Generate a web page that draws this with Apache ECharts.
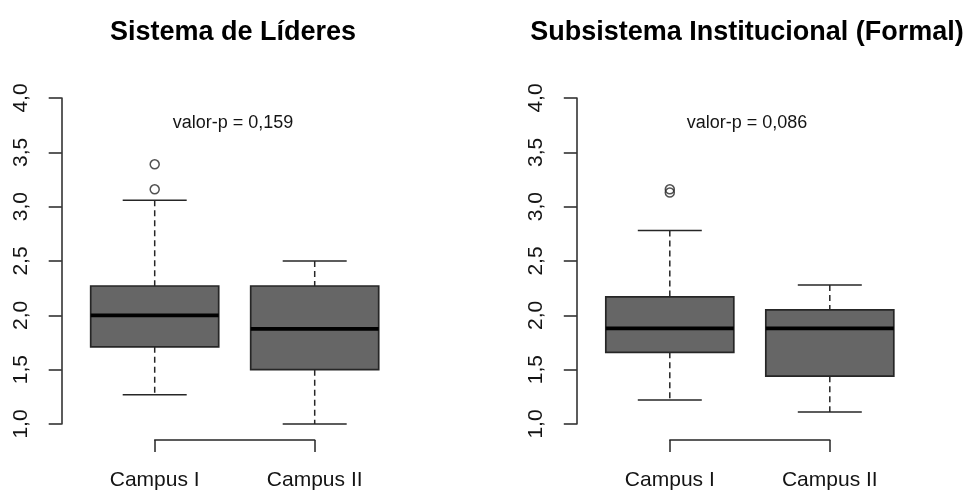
<!DOCTYPE html>
<html>
<head>
<meta charset="utf-8">
<script src="https://cdn.jsdelivr.net/npm/echarts@6/dist/echarts.min.js"></script>
<style>
  html, body { margin: 0; padding: 0; background: #ffffff; }
  #chart { width: 971px; height: 492px; }
</style>
</head>
<body>
<div id="chart"></div>
<script>
// Groups compared in each panel
const campusLabels = ['Campus I', 'Campus II'];

// Y tick labels (comma decimal separator)
const yTickValues = [1.0, 1.5, 2.0, 2.5, 3.0, 3.5, 4.0];
const yTickLabels = ['1,0', '1,5', '2,0', '2,5', '3,0', '3,5', '4,0'];

// Five-number summaries per campus: [lower whisker, Q1, median, Q3, upper whisker]
const lideresStats = [
  [1.27, 1.71, 2.00, 2.27, 3.06],
  [1.00, 1.50, 1.875, 2.27, 2.50]
];
const formalStats = [
  [1.22, 1.66, 1.88, 2.17, 2.78],
  [1.11, 1.44, 1.88, 2.05, 2.28]
];

// Outliers: [campus index, value]
const lideresOutliers = [[0, 3.39], [0, 3.16]];
const formalOutliers = [[0, 3.16], [0, 3.13]];

const panelTitles = ['Sistema de Líderes', 'Subsistema Institucional (Formal)'];
const pValueLabels = ['valor-p = 0,159', 'valor-p = 0,086'];

const FONT = "'Liberation Sans', Arial, sans-serif";
const INK = '#262626';

// Box, thick median, dashed whiskers with solid staples
function renderBox(params, api) {
  const idx = api.value(0);
  const band = api.size([1, 0])[0];
  const boxHalf = band * 0.4;
  const capHalf = band * 0.2;
  const pt = function (v) { return api.coord([idx, v]); };
  const lo = pt(api.value(1));
  const q1 = pt(api.value(2));
  const med = pt(api.value(3));
  const q3 = pt(api.value(4));
  const hi = pt(api.value(5));
  const cx = lo[0];
  const dashed = { stroke: INK, lineWidth: 1.5, lineDash: [6, 4] };
  const solid = { stroke: INK, lineWidth: 1.5 };
  return {
    type: 'group',
    children: [
      { type: 'line', shape: { x1: cx, y1: hi[1], x2: cx, y2: q3[1] }, style: dashed },
      { type: 'line', shape: { x1: cx, y1: q1[1], x2: cx, y2: lo[1] }, style: dashed },
      { type: 'line', shape: { x1: cx - capHalf, y1: hi[1], x2: cx + capHalf, y2: hi[1] }, style: solid },
      { type: 'line', shape: { x1: cx - capHalf, y1: lo[1], x2: cx + capHalf, y2: lo[1] }, style: solid },
      { type: 'rect', shape: { x: cx - boxHalf, y: q3[1], width: boxHalf * 2, height: q1[1] - q3[1] },
        style: { fill: '#666666', stroke: INK, lineWidth: 1.7 } },
      { type: 'line', shape: { x1: cx - boxHalf, y1: med[1], x2: cx + boxHalf, y2: med[1] },
        style: { stroke: '#000000', lineWidth: 3.8 } }
    ]
  };
}

const panelLefts = [154.7, 669.8];
// horizontal anchor of each panel's headings (title padding is 5px)
const headingAnchors = [228, 742];

function makeXAxis(i) {
  return {
    type: 'category',
    gridIndex: i,
    data: campusLabels,
    boundaryGap: false,
    offset: 16,
    axisLine: { show: true, lineStyle: { color: INK, width: 1.5 } },
    axisTick: { show: true, length: 12, lineStyle: { color: INK, width: 1.5 } },
    axisLabel: { fontSize: 21, fontFamily: FONT, color: '#141414', margin: 30 },
    splitLine: { show: false }
  };
}

function makeYAxis(i) {
  return {
    type: 'value',
    gridIndex: i,
    min: 1,
    max: 4,
    interval: 0.5,
    offset: 93,
    axisLine: { show: true, lineStyle: { color: INK, width: 1.5 } },
    axisTick: { show: true, length: 13, lineStyle: { color: INK, width: 1.5 } },
    axisLabel: {
      rotate: 90,
      fontSize: 21,
      fontFamily: FONT,
      color: '#141414',
      margin: 30,
      formatter: function (v) {
        const k = yTickValues.findIndex(function (t) { return Math.abs(t - v) < 1e-6; });
        return k >= 0 ? yTickLabels[k] : '';
      }
    },
    splitLine: { show: false }
  };
}

const titles = [];
panelTitles.forEach(function (t, i) {
  titles.push({
    text: t, left: headingAnchors[i], top: 14, textAlign: 'center',
    textStyle: { fontSize: 27, fontWeight: 'bold', fontFamily: FONT, color: '#000000' }
  });
  titles.push({
    text: pValueLabels[i], left: headingAnchors[i], top: 109, textAlign: 'center',
    textStyle: { fontSize: 18, fontWeight: 'normal', fontFamily: FONT, color: '#141414' }
  });
});

const statsByPanel = [lideresStats, formalStats];
const outliersByPanel = [lideresOutliers, formalOutliers];

const series = [];
[0, 1].forEach(function (i) {
  series.push({
    type: 'custom',
    xAxisIndex: i,
    yAxisIndex: i,
    renderItem: renderBox,
    encode: { x: 0, y: [1, 2, 3, 4, 5] },
    data: statsByPanel[i].map(function (s, k) { return [k].concat(s); }),
    silent: true
  });
  series.push({
    type: 'scatter',
    xAxisIndex: i,
    yAxisIndex: i,
    symbol: 'circle',
    symbolSize: 9,
    itemStyle: { color: 'rgba(0,0,0,0)', borderColor: INK, borderWidth: 1.5 },
    data: outliersByPanel[i],
    silent: true
  });
});

const chart = echarts.init(document.getElementById('chart'), null, { renderer: 'canvas' });
chart.setOption({
  animation: false,
  backgroundColor: '#ffffff',
  title: titles,
  grid: [
    { left: panelLefts[0], width: 160, top: 98, height: 326, containLabel: false },
    { left: panelLefts[1], width: 160, top: 98, height: 326, containLabel: false }
  ],
  xAxis: [makeXAxis(0), makeXAxis(1)],
  yAxis: [makeYAxis(0), makeYAxis(1)],
  series: series
});
</script>
</body>
</html>
